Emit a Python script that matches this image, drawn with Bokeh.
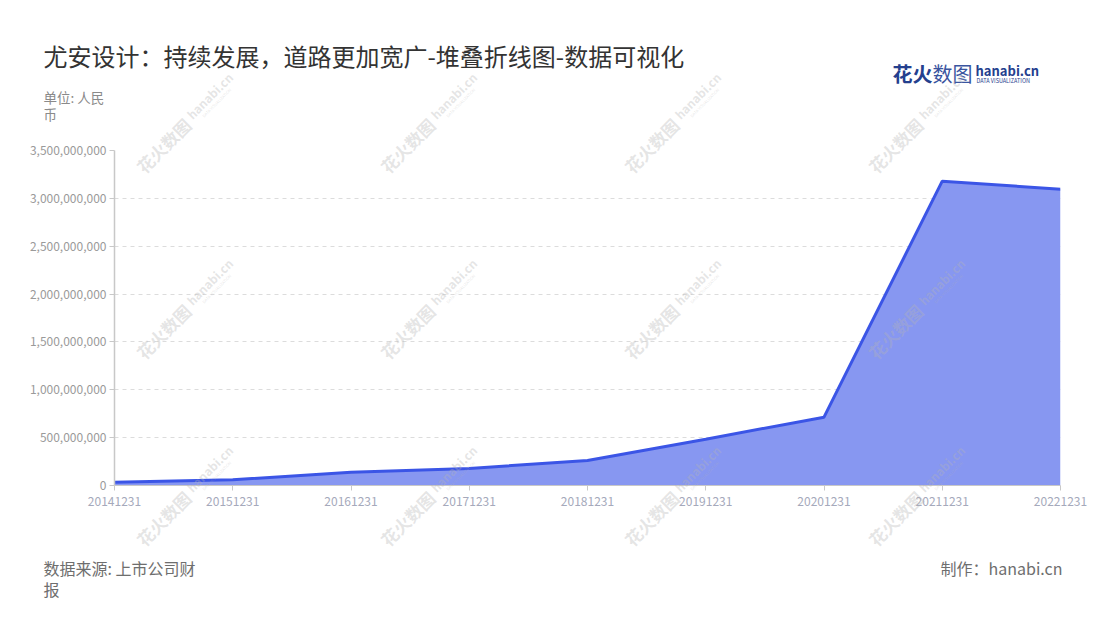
import math
from bokeh.plotting import figure
from bokeh.layouts import column
from bokeh.models import Range1d, FixedTicker, NumeralTickFormatter, Label, ColumnDataSource
from bokeh.embed import file_html
from bokeh.resources import INLINE

categories = ["20141231", "20151231", "20161231", "20171231", "20181231",
              "20191231", "20201231", "20211231", "20221231"]
revenue = [35e6, 60e6, 139e6, 178e6, 261e6, 484e6, 714e6, 3180e6, 3096e6]
y_ticks = [0, 5e8, 1e9, 1.5e9, 2e9, 2.5e9, 3e9, 3.5e9]

FONT = "Noto Sans CJK SC"
W = 1100
HEAD_H, MAIN_H, FOOT_H = 140, 385, 90
TOTAL_H = HEAD_H + MAIN_H + FOOT_H


def blank(h, **kw):
    f = figure(width=W, height=h, output_backend="svg", toolbar_location=None,
               x_range=Range1d(0, 1), y_range=Range1d(0, 1),
               x_axis_type=None, y_axis_type=None, min_border=0, frame_align=False, **kw)
    f.outline_line_color = None
    f.xgrid.grid_line_color = None
    f.ygrid.grid_line_color = None
    return f


def lab(f, h, top, x, y, text, size, color, align="left", style="normal", angle=0.0, alpha=1.0):
    # x, y are page pixel coordinates; convert to the figure's screen units
    f.add_layout(Label(x=x, y=h - (y - top), x_units="screen", y_units="screen", text=text,
                       text_font=FONT, text_font_size=size, text_color=color,
                       text_align=align, text_baseline="middle", text_font_style=style,
                       angle=angle, text_alpha=alpha))


# ---- header ----
head = blank(HEAD_H)
lab(head, HEAD_H, 0, 43, 55, "尤安设计：持续发展，道路更加宽广-堆叠折线图-数据可视化", "24px", "#333333")
lab(head, HEAD_H, 0, 43, 96, "单位: 人民", "13.5px", "#8a8a8a")
lab(head, HEAD_H, 0, 43, 113, "币", "13.5px", "#8a8a8a")
lab(head, HEAD_H, 0, 892, 73, "花火", "20px", "#24408e", style="bold")
lab(head, HEAD_H, 0, 932, 73, "数图", "20px", "#3a55a0")
lab(head, HEAD_H, 0, 975, 70, "hanabi.cn", "13px", "#24408e", style="bold")
lab(head, HEAD_H, 0, 976, 80, "DATA VISUALIZATION", "5.5px", "#24408e")

# ---- main chart ----
xs = list(range(len(categories)))
src = ColumnDataSource(dict(x=xs, y=revenue))

p = figure(width=W, height=MAIN_H, output_backend="svg", toolbar_location=None,
           x_range=Range1d(0, len(categories) - 1), y_range=Range1d(0, 3.5e9),
           min_border_left=114, min_border_right=40, min_border_top=10, min_border_bottom=40,
           frame_align=False)
p.outline_line_color = None

p.varea(x="x", y1=0, y2="y", source=src, fill_color="#8797f1", fill_alpha=1.0)
p.line(x="x", y="y", source=src, line_color="#3b55e6", line_width=3)

p.xaxis.ticker = FixedTicker(ticks=xs)
p.xaxis.major_label_overrides = {i: c for i, c in enumerate(categories)}
p.xaxis.axis_line_color = "#c8c8c8"
p.xaxis.major_tick_line_color = "#c8c8c8"
p.xaxis.major_tick_out = 5
p.xaxis.major_tick_in = 0
p.xaxis.minor_tick_line_color = None
p.xaxis.major_label_text_font = FONT
p.xaxis.major_label_text_font_size = "12px"
p.xaxis.major_label_text_color = "#a5a9bb"
p.xaxis.major_label_standoff = 6

p.yaxis.ticker = FixedTicker(ticks=y_ticks)
p.yaxis.formatter = NumeralTickFormatter(format="0,0")
p.yaxis.axis_line_color = "#c8c8c8"
p.yaxis.axis_line_width = 1.5
p.yaxis.major_tick_line_color = "#c8c8c8"
p.yaxis.major_tick_out = 5
p.yaxis.major_tick_in = 0
p.yaxis.minor_tick_line_color = None
p.yaxis.major_label_text_font = FONT
p.yaxis.major_label_text_font_size = "12px"
p.yaxis.major_label_text_color = "#9a9a9a"
p.yaxis.major_label_standoff = 3

p.xgrid.grid_line_color = None
p.ygrid.grid_line_color = "#dcdcdc"
p.ygrid.grid_line_dash = "4 4"

# ---- footer ----
top_f = HEAD_H + MAIN_H
foot = blank(FOOT_H)
lab(foot, FOOT_H, top_f, 43, 567, "数据来源: 上市公司财", "16px", "#6e6e6e")
lab(foot, FOOT_H, top_f, 43, 588, "报", "16px", "#6e6e6e")
lab(foot, FOOT_H, top_f, 1062, 567, "制作：hanabi.cn", "16px", "#6e6e6e", align="right")

# ---- watermark overlay (transparent, drawn over the whole page) ----
wm = blank(TOTAL_H, margin=(-TOTAL_H, 0, 0, 0))
wm.background_fill_alpha = 0
wm.border_fill_alpha = 0
ang = math.pi / 4
wm_cols = [163, 407, 651, 895]
wm_rows = [145, 331, 518]
for cy in wm_rows:
    for cx in wm_cols:
        lab(wm, TOTAL_H, 0, cx, cy, "花火数图", "17px", "#b4b4b4", align="center",
            style="bold", angle=ang, alpha=0.35)
        lab(wm, TOTAL_H, 0, cx + 46, cy - 50, "hanabi.cn", "12px", "#b4b4b4", align="center",
            style="bold", angle=ang, alpha=0.35)
        lab(wm, TOTAL_H, 0, cx + 53, cy - 43, "DATA VISUALIZATION", "4px", "#b4b4b4",
            align="center", angle=ang, alpha=0.35)

layout = column(head, p, foot, wm, spacing=0)

with open("out.html", "w") as f:
    f.write(file_html(layout, INLINE))
